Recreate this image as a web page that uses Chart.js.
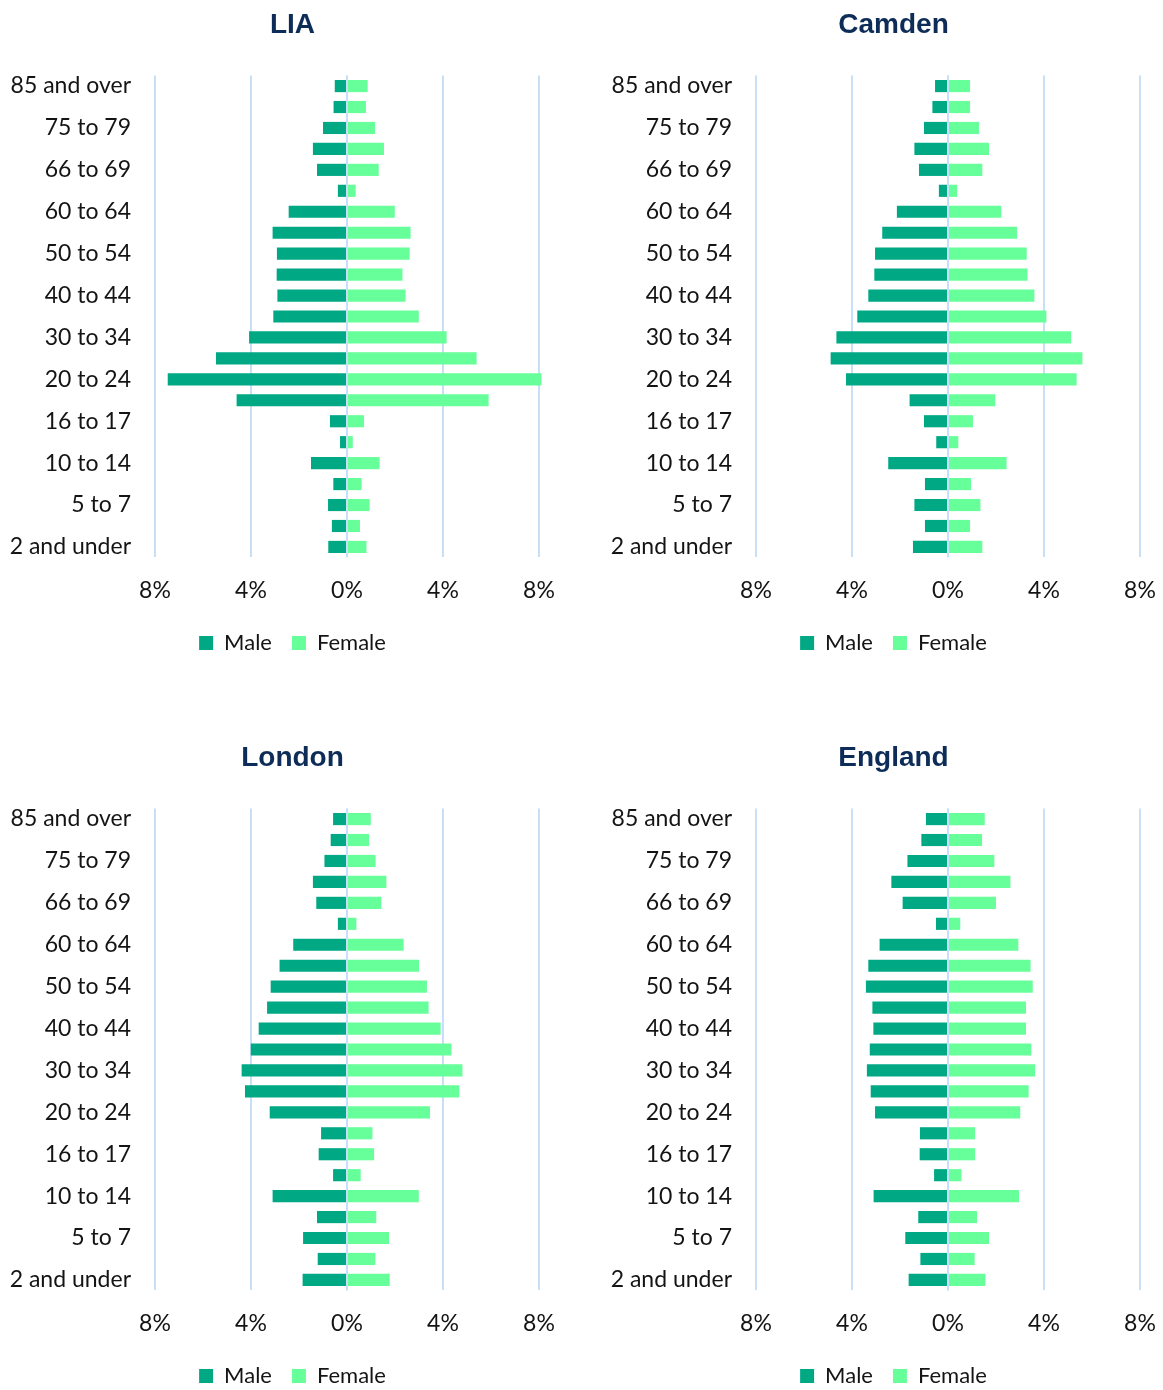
<!DOCTYPE html>
<html>
<head>
<meta charset="utf-8">
<title>Population pyramids</title>
<script src="https://cdn.jsdelivr.net/npm/chart.js@4.4.1/dist/chart.umd.min.js"></script>
<style>
  html, body { margin: 0; padding: 0; background: #ffffff; overflow: hidden; }
  #page { position: relative; width: 1163px; height: 1390px; overflow: hidden; }
  .panel { position: absolute; width: 584px; height: 664px; }
</style>
</head>
<body>
<div id="page">
  <div class="panel" style="left:0px;top:0px"><canvas id="c0" width="584" height="664"></canvas></div>
  <div class="panel" style="left:601px;top:0px"><canvas id="c1" width="584" height="664"></canvas></div>
  <div class="panel" style="left:0px;top:733px"><canvas id="c2" width="584" height="664"></canvas></div>
  <div class="panel" style="left:601px;top:733px"><canvas id="c3" width="584" height="664"></canvas></div>
</div>
<script>
// Age bands, oldest first (top of each pyramid)
const ageBands = [
  '85 and over', '80 to 84', '75 to 79', '70 to 74', '66 to 69', '65',
  '60 to 64', '55 to 59', '50 to 54', '45 to 49', '40 to 44', '35 to 39',
  '30 to 34', '25 to 29', '20 to 24', '18 to 19', '16 to 17', '15',
  '10 to 14', '8 to 9', '5 to 7', '3 to 4', '2 and under'
];

const areaNames = ['LIA', 'Camden', 'London', 'England'];
const seriesNames = ['Male', 'Female'];

// Share of the total population (%) in each age band
const liaMale      = [0.51, 0.56, 1.00, 1.42, 1.25, 0.38, 2.43, 3.10, 2.92, 2.93, 2.90, 3.07, 4.08, 5.46, 7.47, 4.60, 0.71, 0.29, 1.50, 0.57, 0.79, 0.63, 0.78];
const liaFemale    = [0.86, 0.79, 1.17, 1.54, 1.32, 0.36, 1.99, 2.65, 2.61, 2.31, 2.44, 2.99, 4.15, 5.40, 8.10, 5.90, 0.71, 0.24, 1.36, 0.61, 0.94, 0.54, 0.81];
const camdenMale   = [0.54, 0.65, 1.00, 1.40, 1.21, 0.38, 2.13, 2.74, 3.04, 3.07, 3.32, 3.78, 4.65, 4.89, 4.25, 1.60, 1.00, 0.49, 2.49, 0.96, 1.40, 0.96, 1.46];
const camdenFemale = [0.92, 0.92, 1.29, 1.71, 1.43, 0.38, 2.22, 2.88, 3.28, 3.31, 3.60, 4.10, 5.13, 5.60, 5.36, 1.97, 1.04, 0.43, 2.44, 0.96, 1.35, 0.92, 1.43];
const londonMale   = [0.58, 0.68, 0.94, 1.42, 1.28, 0.38, 2.24, 2.81, 3.18, 3.33, 3.68, 4.01, 4.39, 4.25, 3.22, 1.08, 1.18, 0.58, 3.10, 1.25, 1.83, 1.22, 1.85];
const londonFemale = [0.99, 0.92, 1.19, 1.64, 1.43, 0.39, 2.36, 3.00, 3.33, 3.40, 3.90, 4.35, 4.81, 4.68, 3.46, 1.06, 1.13, 0.57, 2.99, 1.22, 1.75, 1.18, 1.78];
const englandMale  = [0.92, 1.11, 1.69, 2.36, 1.89, 0.50, 2.85, 3.32, 3.42, 3.15, 3.11, 3.26, 3.38, 3.22, 3.04, 1.17, 1.18, 0.58, 3.10, 1.24, 1.78, 1.15, 1.64];
const englandFemale= [1.53, 1.42, 1.93, 2.60, 2.00, 0.51, 2.93, 3.44, 3.53, 3.25, 3.25, 3.47, 3.63, 3.36, 3.01, 1.13, 1.13, 0.56, 2.96, 1.21, 1.71, 1.11, 1.56];

const axisTicks = [-8, -4, 0, 4, 8];

const maleByArea = [liaMale, camdenMale, londonMale, englandMale];
const femaleByArea = [liaFemale, camdenFemale, londonFemale, englandFemale];

const MALE_COLOR = '#00a884';
const FEMALE_COLOR = '#66ff99';
const GRID_COLOR = '#c8dffa';
const TEXT_COLOR = '#141414';
const TITLE_COLOR = '#0d2c57';

Chart.defaults.font.family = 'Lato, "Noto Sans", sans-serif';
Chart.defaults.color = TEXT_COLOR;

// Vertical line at 0% drawn over the bars, splitting male and female sides
const zeroLine = {
  id: 'zeroLine',
  afterDatasetsDraw(chart) {
    const { ctx, chartArea, scales } = chart;
    const px = scales.x.getPixelForValue(0);
    ctx.save();
    ctx.strokeStyle = GRID_COLOR;
    ctx.lineWidth = 2;
    ctx.beginPath();
    ctx.moveTo(px, chartArea.top);
    ctx.lineTo(px, chartArea.bottom);
    ctx.stroke();
    ctx.restore();
  }
};

function buildPyramid(canvasId, title, male, female) {
  return new Chart(document.getElementById(canvasId), {
    type: 'bar',
    data: {
      labels: ageBands,
      datasets: [
        {
          label: seriesNames[0],
          data: male.map(v => -v),
          backgroundColor: MALE_COLOR,
          barPercentage: 0.58,
          categoryPercentage: 1.0,
          clip: false
        },
        {
          label: seriesNames[1],
          data: female,
          backgroundColor: FEMALE_COLOR,
          barPercentage: 0.58,
          categoryPercentage: 1.0,
          clip: false
        }
      ]
    },
    options: {
      indexAxis: 'y',
      responsive: false,
      animation: false,
      layout: { padding: { left: 10, right: 9, top: 0, bottom: 0 } },
      scales: {
        x: {
          stacked: true,
          min: axisTicks[0],
          max: axisTicks[axisTicks.length - 1],
          afterBuildTicks(axis) { axis.ticks = axisTicks.map(v => ({ value: v })); },
          afterFit(axis) { axis.height -= 11; },
          grid: { color: GRID_COLOR, lineWidth: 2, drawTicks: false },
          border: { display: false },
          ticks: {
            padding: 19,
            color: TEXT_COLOR,
            font: { size: 23 },
            maxRotation: 0,
            callback: v => Math.abs(v) + '%'
          }
        },
        y: {
          stacked: true,
          afterFit(axis) { axis.width = 145; },
          grid: { display: false, drawTicks: false },
          border: { display: false },
          ticks: {
            autoSkip: false,
            padding: 24,
            color: TEXT_COLOR,
            font: { size: 23 },
            callback: (v, i) => (i % 2 === 0 ? ageBands[i] : '')
          }
        },
        // empty right-hand gutter so the plot sits left of the panel centre
        gutter: {
          type: 'linear',
          position: 'right',
          display: true,
          afterFit(axis) { axis.width = 36; },
          grid: { display: false, drawTicks: false },
          border: { display: false },
          ticks: { display: false }
        }
      },
      plugins: {
        title: {
          display: true,
          text: title,
          color: TITLE_COLOR,
          font: { family: '"Liberation Sans", Arial, sans-serif', size: 28, weight: 'bold' },
          padding: { top: 8, bottom: 34 }
        },
        legend: {
          position: 'bottom',
          labels: {
            boxWidth: 14,
            boxHeight: 14,
            padding: 20,
            color: TEXT_COLOR,
            font: { size: 22 }
          }
        },
        tooltip: { enabled: false }
      }
    },
    plugins: [zeroLine]
  });
}

areaNames.forEach((name, i) => buildPyramid('c' + i, name, maleByArea[i], femaleByArea[i]));
</script>
</body>
</html>
